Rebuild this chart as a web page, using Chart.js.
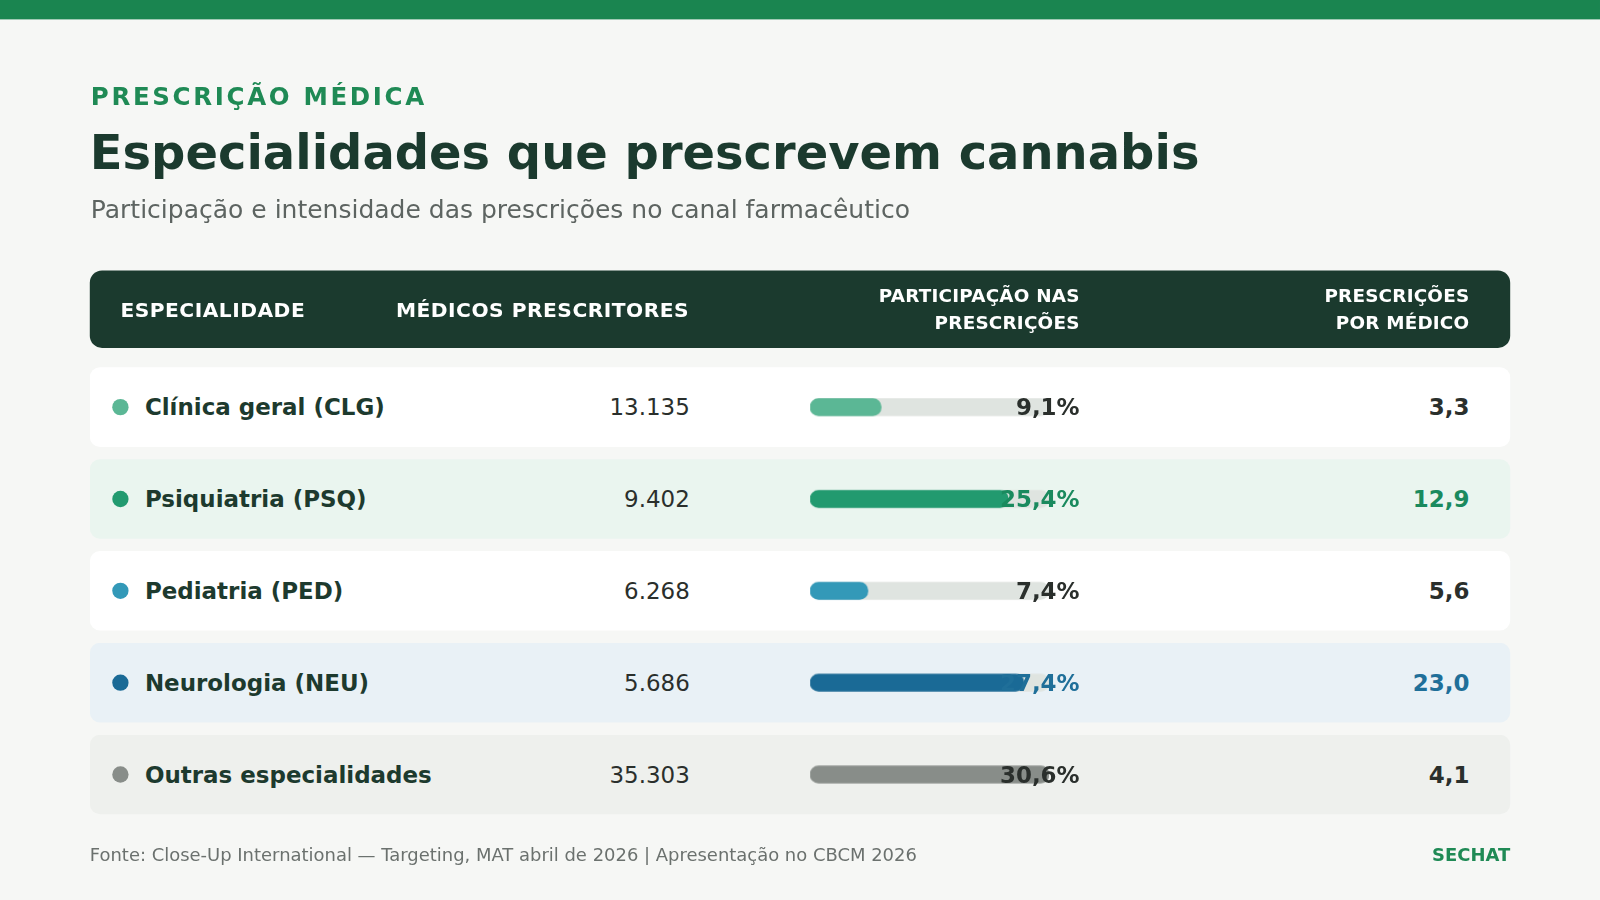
<!DOCTYPE html>
<html><head><meta charset="utf-8">
<script src="https://cdn.jsdelivr.net/npm/chart.js@4"></script>
<style>
body{margin:0;width:1600px;height:900px;background:#f6f7f5;font-family:"DejaVu Sans",sans-serif;overflow:hidden}
#page{position:absolute;left:0;top:0;width:1568px;height:882px;transform:scale(1.0204);transform-origin:0 0}
.top{position:absolute;left:0;top:0;width:1568px;height:19px;background:#1a8550}
.kick{position:absolute;left:89px;top:81px;font-size:24px;font-weight:bold;letter-spacing:2.6px;color:#1f8a55}
h1{position:absolute;left:88px;top:122px;margin:0;font-size:47px;color:#1b3a2e}
.sub{position:absolute;left:89px;top:191px;font-size:24.5px;color:#5d6461}
.head{position:absolute;left:88px;top:265px;width:1392px;height:76px;background:#1b3a2e;border-radius:12px;color:#fff;font-weight:bold;font-size:19.8px;letter-spacing:.5px}
.head div{position:absolute}
.head .two{font-size:18px;letter-spacing:.2px;text-align:right;line-height:26px;top:12px}
.row{position:absolute;left:88px;width:1392px;height:78px;border-radius:10px}
.row div{position:absolute;top:0;line-height:78px;font-size:22.5px}
.dot{width:16px;height:16px;border-radius:50%;top:31px!important;left:22px}
.nm{left:54px;font-weight:bold;color:#1d3a2e}
.md{right:804px;color:#2a2f2c}
.pc{right:422px;font-weight:bold;color:#2a2f2c;z-index:2}
.pm{right:40px;font-weight:bold;color:#2a2f2c}
.foot{position:absolute;left:88px;top:828px;font-size:17.6px;color:#6b716e}
.brand{position:absolute;right:88px;top:828px;font-size:17.6px;font-weight:bold;color:#1f8a55}
#wrap{position:absolute;left:794px;top:354px;width:234px;height:450px;z-index:1}
#rows .row{z-index:0}
</style></head><body>
<div id="page">
<div class="top"></div>
<div class="kick">PRESCRIÇÃO MÉDICA</div>
<h1>Especialidades que prescrevem cannabis</h1>
<div class="sub">Participação e intensidade das prescrições no canal farmacêutico</div>
<div class="head">
<div style="left:30px;top:28px">ESPECIALIDADE</div>
<div style="left:300px;top:28px">MÉDICOS PRESCRITORES</div>
<div class="two" style="right:422px">PARTICIPAÇÃO NAS<br>PRESCRIÇÕES</div>
<div class="two" style="right:40px">PRESCRIÇÕES<br>POR MÉDICO</div>
</div>
<div id="rows"></div>
<div id="labels"></div>
<div id="wrap"><canvas id="chart"></canvas></div>
<div class="foot">Fonte: Close-Up International — Targeting, MAT abril de 2026 | Apresentação no CBCM 2026</div>
<div class="brand">SECHAT</div>
</div>
<script>
var specialties = ['Clínica geral (CLG)', 'Psiquiatria (PSQ)', 'Pediatria (PED)', 'Neurologia (NEU)', 'Outras especialidades'];
var doctors = ['13.135', '9.402', '6.268', '5.686', '35.303'];
var share = [9.1, 25.4, 7.4, 27.4, 30.6];
var perDoctor = [3.3, 12.9, 5.6, 23.0, 4.1];
var colors = ['#5bb795', '#229a6f', '#3399b8', '#1a6a96', '#888d89'];
var rowBg = ['#ffffff', '#eaf5ef', '#ffffff', '#e9f1f6', '#eef0ed'];
var accent = [null, '#1a8a5e', null, '#1f6f99', null];

var fmt = function(v) { return v.toFixed(1).replace('.', ','); };
var rows = document.getElementById('rows');
var labels = document.getElementById('labels');
specialties.forEach(function(name, i) {
    var c = accent[i] ? ' style="color:' + accent[i] + '"' : '';
    var r = document.createElement('div');
    r.className = 'row';
    r.style.top = (360 + i * 90) + 'px';
    r.style.background = rowBg[i];
    r.innerHTML = '<div class="dot" style="background:' + colors[i] + '"></div>' +
        '<div class="nm">' + name + '</div>' +
        '<div class="md">' + doctors[i] + '</div>' +
        '<div class="pm"' + c + '>' + fmt(perDoctor[i]) + '</div>';
    rows.appendChild(r);
    var l = document.createElement('div');
    l.className = 'row';
    l.style.top = (360 + i * 90) + 'px';
    l.style.zIndex = 2;
    l.innerHTML = '<div class="pc"' + c + '>' + fmt(share[i]) + '%</div>';
    labels.appendChild(l);
});

var maxShare = Math.max.apply(null, share);
new Chart(document.getElementById('chart'), {
    type: 'bar',
    data: {
        labels: specialties,
        datasets: [
            { data: share, backgroundColor: colors, barThickness: 17, borderRadius: 9, borderSkipped: false, grouped: false, order: 1 },
            { data: share.map(function() { return maxShare; }), backgroundColor: '#dfe4e0', barThickness: 17, borderRadius: 9, borderSkipped: false, grouped: false, order: 2 }
        ]
    },
    options: {
        indexAxis: 'y', responsive: true, maintainAspectRatio: false, animation: false,
        layout: { padding: 0 },
        plugins: { legend: { display: false }, tooltip: { enabled: false } },
        scales: {
            x: { display: false, min: 0, max: maxShare },
            y: { display: false }
        }
    }
});
</script>
</body></html>
